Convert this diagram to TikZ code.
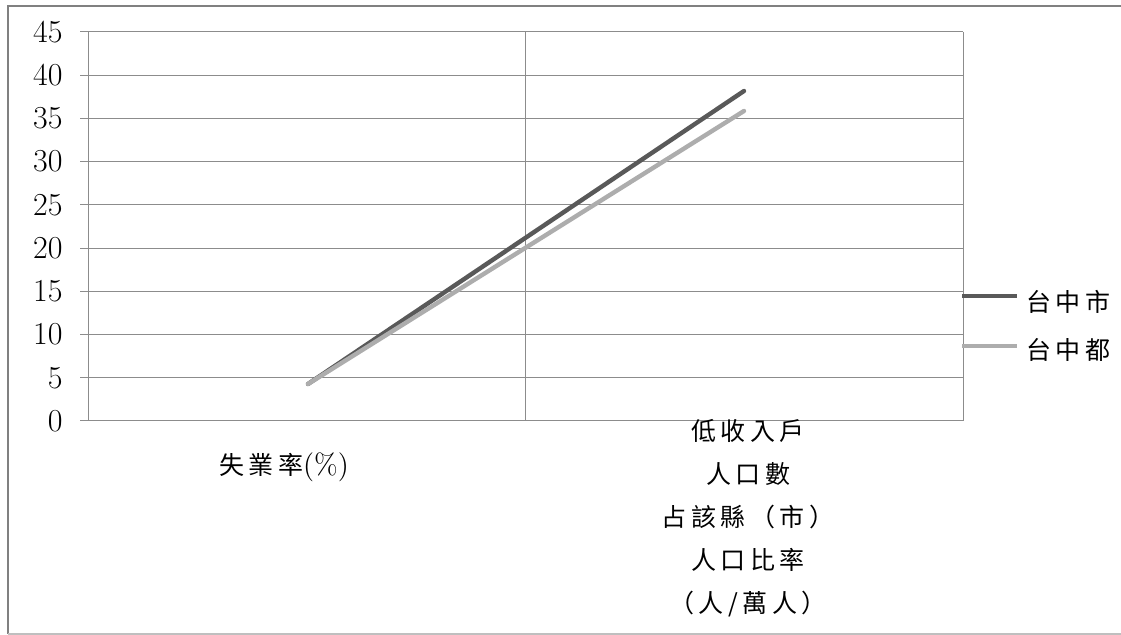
\documentclass[tikz,border=0pt]{standalone}
\usepackage{fontspec}
\newfontfamily\cjk{Noto Sans CJK TC}[LetterSpace=18]
\begin{document}
\begin{tikzpicture}[x=0.5pt,y=-0.5pt,
    grid/.style={draw=black!45, line width=0.5pt},
    seriesA/.style={draw=black!65, line width=2.2pt, line cap=round},
    seriesB/.style={draw=black!32, line width=2.2pt, line cap=round},
    ticklabel/.style={anchor=east, inner sep=0pt, font=\fontsize{16}{16}\selectfont},
    legendlabel/.style={anchor=west, inner sep=0pt, font=\cjk\fontsize{12.5}{12.5}\selectfont}]
    \useasboundingbox (0,0) rectangle (1121,635);
    \draw[black!50, line width=1.2pt] (1121,6) -- (8,6) -- (8,634);
    \draw[black!25, line width=0.8pt] (8,634) -- (1121,634);

    \foreach \v in {0,5,...,45} {
        \draw[grid] (80,{421-\v*8.6444}) -- (963,{421-\v*8.6444});
        \node[ticklabel] (y\v) at (63,{421-\v*8.6444}) {\v};
    }
    \draw[grid] (88,32) -- (88,421);
    \draw[grid] (525,32) -- (525,421);
    \draw[grid] (963,32) -- (963,421);

    \coordinate (shiA) at (308,384);
    \coordinate (shiB) at (744,91);
    \coordinate (duA) at (308,384);
    \coordinate (duB) at (744,111);
    \draw[seriesA] (shiA) -- (shiB);
    \draw[seriesB] (duA) -- (duB);

    \node[anchor=center, inner sep=0pt] (catA) at (284,467)
        {\cjk\fontsize{12.5}{12.5}\selectfont 失業率\rmfamily\fontsize{14.5}{14.5}\selectfont(\%)};
    \node[anchor=north, inner sep=0pt, align=center, font=\cjk\fontsize{12.5}{21.5}\selectfont] (catB) at (748,419)
        {低收入戶\\人口數\\占該縣（市）\\人口比率\\（人/萬人）};

    \coordinate (legA1) at (962,296);
    \coordinate (legA2) at (1017,296);
    \coordinate (legB1) at (962,346);
    \coordinate (legB2) at (1017,346);
    \draw[seriesA, line cap=butt] (legA1) -- (legA2);
    \draw[seriesB, line cap=butt] (legB1) -- (legB2);
    \node[legendlabel] (legA) at (1026,302) {台中市};
    \node[legendlabel] (legB) at (1026,350) {台中都};
\end{tikzpicture}
\end{document}
